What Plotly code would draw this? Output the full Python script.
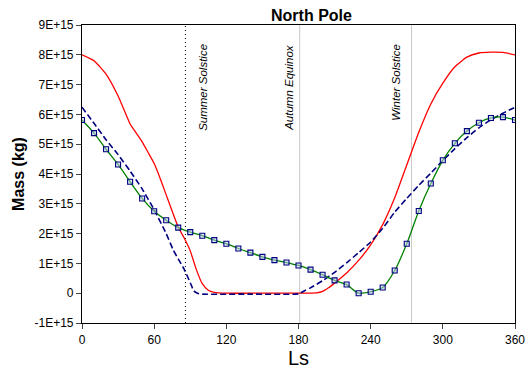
import plotly.graph_objects as go

# Green series (with markers), every 10 Ls
green_ls = list(range(0, 361, 10))
green_val = [5.81, 5.37, 4.83, 4.32, 3.74, 3.18, 2.75, 2.45, 2.20, 2.05,
             1.93, 1.78, 1.66, 1.50, 1.36, 1.22, 1.11, 1.03, 0.93, 0.79,
             0.62, 0.43, 0.29, 0.00, 0.05, 0.19, 0.76, 1.66, 2.76, 3.68,
             4.46, 5.03, 5.44, 5.72, 5.88, 5.91, 5.81]

# Red series
red_ls = [0, 10, 20, 30, 35, 40, 45, 50, 55, 60, 65, 70, 80, 85, 90, 95, 100,
          105, 110, 120, 150, 180, 195, 200, 205, 210, 220, 230, 240, 250,
          260, 270, 280, 290, 300, 310, 320, 330, 340, 350, 360]
red_val = [8.00, 7.80, 7.35, 6.62, 6.15, 5.68, 5.38, 5.08, 4.72, 4.35, 3.85,
           3.30, 2.22, 1.85, 1.42, 0.80, 0.32, 0.10, 0.03, 0.00, 0.00, 0.00,
           0.01, 0.06, 0.18, 0.34, 0.68, 1.10, 1.62, 2.30, 3.20, 4.30, 5.40,
           6.35, 7.05, 7.60, 7.92, 8.06, 8.09, 8.08, 8.00]

# Blue dashed series
blue_ls = [0, 10, 20, 30, 40, 50, 60, 70, 76, 80, 85, 90, 93, 96, 100, 140,
           180, 185, 190, 200, 210, 220, 230, 240, 250, 260, 270, 280, 290,
           300, 310, 320, 330, 340, 350, 360]
blue_val = [6.24, 5.70, 5.15, 4.65, 4.10, 3.50, 2.80, 2.00, 1.44, 1.15, 0.80,
            0.35, 0.08, 0.00, -0.03, -0.03, -0.02, 0.08, 0.18, 0.42, 0.70,
            1.02, 1.36, 1.72, 2.18, 2.72, 3.18, 3.62, 4.03, 4.45, 4.85, 5.22,
            5.55, 5.82, 6.04, 6.24]

SCALE = 1e15

# Season markers
event_ls = [86, 181, 274]
event_labels = ["Summer Solstice", "Autumn Equinox", "Winter Solstice"]
event_label_ls = [100, 171.5, 261.5]
event_label_val = [6.9, 6.9, 7.08]

x_ticks = [0, 60, 120, 180, 240, 300, 360]
y_tick_vals = [-1, 0, 1, 2, 3, 4, 5, 6, 7, 8, 9]
y_tick_text = ["-1E+15", "0", "1E+15", "2E+15", "3E+15", "4E+15", "5E+15",
               "6E+15", "7E+15", "8E+15", "9E+15"]

fig = go.Figure()

fig.add_trace(go.Scatter(
    x=red_ls, y=[v * SCALE for v in red_val], mode="lines",
    line=dict(color="#ff0000", width=1.3, shape="spline", smoothing=0.5),
    showlegend=False))
fig.add_trace(go.Scatter(
    x=blue_ls, y=[v * SCALE for v in blue_val], mode="lines",
    line=dict(color="#000080", width=1.6, dash="6px,3px", shape="spline",
              smoothing=0.5),
    showlegend=False))
fig.add_trace(go.Scatter(
    x=green_ls, y=[v * SCALE for v in green_val], mode="lines+markers",
    line=dict(color="#008000", width=1.3, shape="spline", smoothing=0.8),
    marker=dict(symbol="square", size=5, color="rgba(190,205,235,0.55)",
                line=dict(color="#000080", width=1.1)),
    showlegend=False))

line_styles = [dict(color="black", width=1, dash="1px,3px"),
               dict(color="#c8c8c8", width=1),
               dict(color="#c8c8c8", width=1)]
for ls_, st in zip(event_ls, line_styles):
    fig.add_shape(type="line", xref="x", yref="paper", x0=ls_, x1=ls_,
                  y0=0, y1=1, line=st, layer="below")

for lab, lx, lv in zip(event_labels, event_label_ls, event_label_val):
    fig.add_annotation(x=lx, y=lv * SCALE, text=lab, textangle=-90,
                       showarrow=False,
                       font=dict(family="Liberation Sans, Arial", size=11.5,
                                 color="black", style="italic"))

fig.update_layout(
    width=528, height=379,
    margin=dict(l=82, r=13, t=25, b=56),
    paper_bgcolor="white", plot_bgcolor="white",
    font=dict(family="Liberation Sans, Arial", color="black", size=12),
    title=dict(text="<b>North Pole</b>", x=0.53, xanchor="center",
               xref="paper", y=1 - 15 / 379, yanchor="middle",
               font=dict(size=16, color="black")),
)
fig.update_xaxes(range=[0, 360], tickvals=x_ticks, ticks="outside", ticklen=5,
                 showgrid=False, zeroline=False, showline=True,
                 linecolor="black", linewidth=1.2, mirror=True,
                 automargin=False,
                 title=dict(text="Ls", font=dict(size=20), standoff=3))
fig.update_yaxes(range=[-1 * SCALE, 9 * SCALE],
                 tickvals=[v * SCALE for v in y_tick_vals],
                 ticktext=y_tick_text, ticks="outside", ticklen=5,
                 showgrid=False, zeroline=False, showline=True,
                 linecolor="black", linewidth=1.2, mirror=True,
                 automargin=False,
                 title=dict(text="<b>Mass (kg)</b>", font=dict(size=16),
                            standoff=5))

fig.write_html(
    "out.html",
    config={"displayModeBar": False},
    post_script="document.body.style.margin='0';"
                "document.body.style.overflow='hidden';")
